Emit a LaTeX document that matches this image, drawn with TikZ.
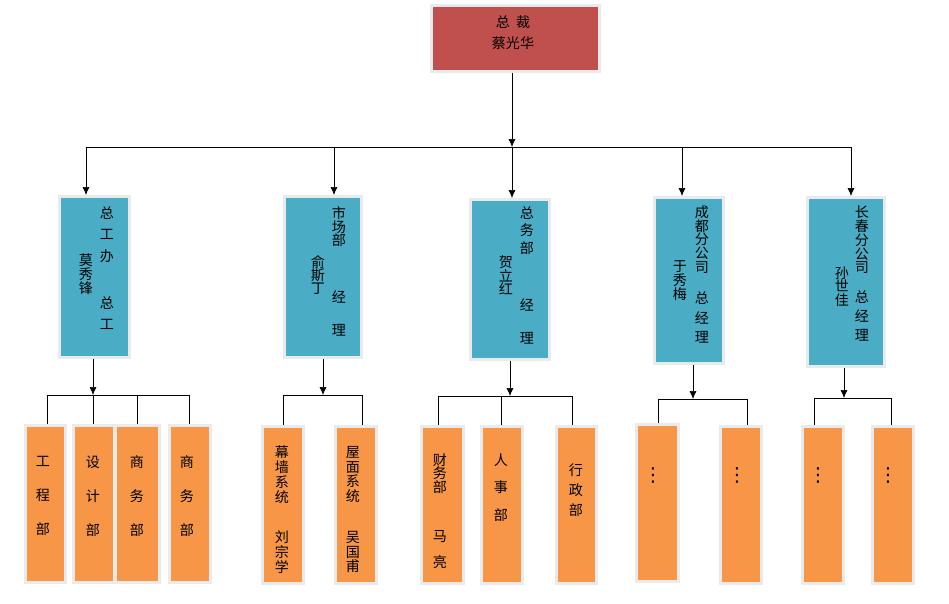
\documentclass[tikz,border=0pt]{standalone}
\usepackage{fontspec}
\newfontfamily\cjk{Noto Sans CJK SC}
\newfontfamily\dotfont{DejaVu Sans}
\usetikzlibrary{arrows.meta}
\definecolor{HeadRed}{HTML}{C0504D}
\definecolor{DeptBlue}{HTML}{4BACC6}
\definecolor{UnitOrange}{HTML}{F79646}
\definecolor{FrameGrey}{HTML}{E8EAEC}

\begin{document}
\begin{tikzpicture}[x=.02cm, y=-.02cm,
    orgbox/.style={draw=FrameGrey, line width=.06cm, inner sep=0pt},
    vtext/.style={font={\cjk\fontsize{8}{#1}\selectfont\lineskiplimit=-10pt\relax}, align=center, inner sep=0pt},
    link/.style={-{Latex[length=.16cm,width=.14cm]}}]
\useasboundingbox (0,0) rectangle (949,603);
% head
\node[orgbox, fill=HeadRed, minimum width=3.36cm, minimum height=1.32cm] (head) at (515.5,38.5) {};
\node[vtext=12] (headtxt) at (513,32.5) {总\ \ 裁\\蔡光华};
% departments
\foreach \n/\cx/\cy/\w/\h in {d1/94.5/277/1.4/3.22, d2/323/277/1.54/3.22, d3/510/279.5/1.58/3.2, d4/689/280.5/1.38/3.32, d5/846/282/1.54/3.38}
    \node[orgbox, fill=DeptBlue, minimum width=\w cm, minimum height=\h cm] (\n) at (\cx,\cy) {};
\coordinate (top) at (512,147);
\foreach \n/\bx in {d1/86, d2/334, d3/512, d4/682, d5/851}
    \coordinate (t\n) at (\bx,147);
\draw[link] (head.south -| top) -- (top);
\draw (td1) -- (td5);
\foreach \n in {d1,d2,d3,d4,d5}
    \draw[link] (t\n) -- (t\n |- \n.north);
\node[vtext=12.2] (d1a) at (107,234.5) {总\\工\\办};
\node[vtext=12] (d1b) at (107,313.5) {总\\工};
\node[vtext=8] (d1c) at (86,274) {莫\\秀\\锋};
\node[vtext=7.7] (d2a) at (339,227) {市\\场\\部};
\node[vtext=18.8] (d2b) at (339,313.5) {经\\理};
\node[vtext=7.4] (d2c) at (318,275) {俞\\斯\\丁};
\node[vtext=10] (d3a) at (527,230.5) {总\\务\\部};
\node[vtext=18.8] (d3b) at (527,321.5) {经\\理};
\node[vtext=7.7] (d3c) at (506,275.5) {贺\\立\\红};
\node[vtext=7.8] (d4a) at (702,239.5) {成\\都\\分\\公\\司};
\node[vtext=11.1] (d4b) at (702,317.5) {总\\经\\理};
\node[vtext=8] (d4c) at (680,281) {于\\秀\\梅};
\node[vtext=7.8] (d5a) at (862,240) {长\\春\\分\\公\\司};
\node[vtext=10.8] (d5b) at (862,316) {总\\经\\理};
\node[vtext=7.7] (d5c) at (842,286.5) {孙\\世\\佳};
% units
\foreach \n/\cx/\cy/\w in {u1/45.5/504/.8, u2/94/504/.82, u3/137.5/504/.88, u4/190/504/.82, u5/283/505/.82, u6/356/505/.82, u7/442.5/504.5/.84, u8/502/504.5/.82, u9/576.5/505/.8, u10/657.5/503/.84, u11/741/504.5/.82, u12/823/504.5/.82, u13/893/504.5/.82}
    \node[orgbox, fill=UnitOrange, minimum width=\w cm, minimum height=3.14cm] (\n) at (\cx,\cy) {};
\foreach \n/\jx/\jy in {d1/93/395, d2/323/395, d3/510/396, d4/693/399, d5/844/398}
{
    \coordinate (j\n) at (\jx,\jy);
    \draw[link] (\n.south -| j\n) -- (j\n);
}
\foreach \u/\sx/\sy in {u1/47/395, u2/93/395, u3/137/395, u4/189/395, u5/283/395, u6/362/395, u7/438/396, u8/501/396, u9/572/396, u10/658/399, u11/747/399, u12/814/398, u13/891/398}
{
    \coordinate (s\u) at (\sx,\sy);
    \draw (s\u) -- (s\u |- \u.north);
}
\draw (su1) -- (su4);
\draw (su5) -- (su6);
\draw (su7) -- (su9);
\draw (su10) -- (su11);
\draw (su12) -- (su13);
\node[vtext=19.3] (u1t) at (43,496) {工\\程\\部};
\node[vtext=19.3] (u2t) at (93,496) {设\\计\\部};
\node[vtext=19.3] (u3t) at (137,496) {商\\务\\部};
\node[vtext=19.3] (u4t) at (187,496) {商\\务\\部};
\node[vtext=8.5] (u5a) at (282,474.5) {幕\\墙\\系\\统};
\node[vtext=8.5] (u5b) at (282,552) {刘\\宗\\学};
\node[vtext=8.5] (u6a) at (353,474.5) {屋\\面\\系\\统};
\node[vtext=8.5] (u6b) at (353,552) {吴\\国\\甫};
\node[vtext=7.7] (u7a) at (440,473.5) {财\\务\\部};
\node[vtext=14.8] (u7b) at (440,550) {马\\亮};
\node[vtext=15.6] (u8t) at (501,487.5) {人\\事\\部};
\node[vtext=11.4] (u9t) at (576,490) {行\\政\\部};
\foreach \n/\dx in {u10/653, u11/737, u12/818, u13/888}
    \node[inner sep=0pt, font=\dotfont\fontsize{11}{13}\selectfont] (\n t) at (\dx,475) {⋮};
\end{tikzpicture}
\end{document}
